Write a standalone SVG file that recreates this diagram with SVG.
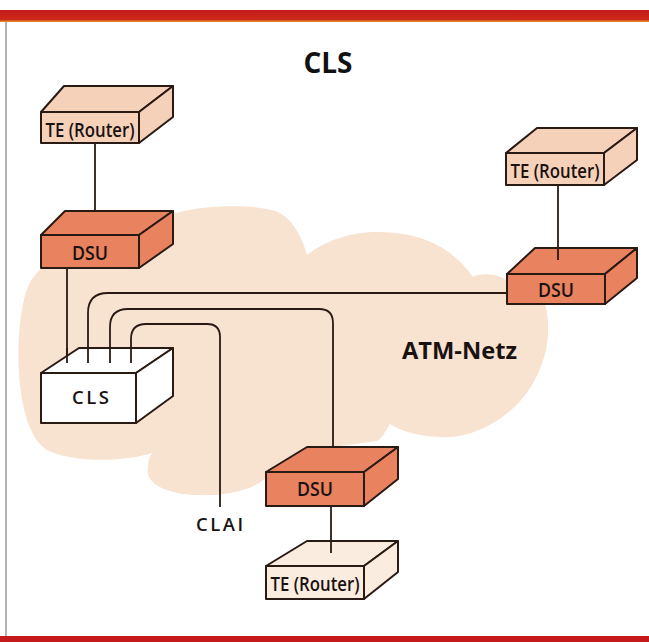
<svg xmlns="http://www.w3.org/2000/svg" width="649" height="642" viewBox="0 0 649 642">
<defs>
<linearGradient id="band" x1="0" y1="0" x2="0" y2="1">
<stop offset="0" stop-color="#c41a1c"/>
<stop offset="0.8" stop-color="#cc2a1a"/>
<stop offset="1" stop-color="#e8a030"/>
</linearGradient>
<style>
.box{stroke:#2a1a14;stroke-width:2;stroke-linejoin:round}
.te{fill:#f6d1ba}
.te2{fill:#fbece0}
.dsu{fill:#e8825f}
.cls{fill:#ffffff}
.con{fill:none;stroke:#2a1a14;stroke-width:1.8}
.lbl{font-family:"Open Sans","Noto Sans",sans-serif;font-weight:600;font-size:19.5px;fill:#1a1210;text-anchor:middle}
.sp{font-family:"Open Sans","Noto Sans",sans-serif;font-weight:600;font-size:18.5px;fill:#1a1210;letter-spacing:2.5px}
</style>
</defs>
<rect width="649" height="642" fill="#ffffff"/>
<rect x="0" y="10" width="649" height="12" fill="url(#band)"/>
<rect x="0" y="636" width="649" height="6" fill="#c41a1c"/>
<line x1="6" y1="22" x2="6" y2="636" stroke="#a09a96" stroke-width="1.5"/>

<text x="328" y="73" font-family="'Open Sans','Noto Sans',sans-serif" font-weight="bold" font-size="28" fill="#111" text-anchor="middle">CLS</text>

<path id="cloud" fill="#f8e2d0" d="M307,255 C325,240 355,231 380,232 C420,233 450,245 473,277 C480,273 495,273 507,280 L545,304 C552,330 548,360 530,388 C510,420 470,440 440,437 C415,436 400,430 390,424 C385,432 382,438 377,441 L340,446 L350,460 L266,478 C250,492 220,496 197,495 C165,494 145,483 148,468 C148,460 150,456 152,453 C120,463 70,462 47,450 C15,430 14,340 24,300 C28,280 38,270 50,262 L60,240 C90,225 140,215 177,213 C200,205 260,203 280,213 C295,222 303,240 307,255 Z"/>

<text x="402" y="359" font-family="'Open Sans','Noto Sans',sans-serif" font-weight="bold" font-size="24" fill="#1a1210" textLength="115" lengthAdjust="spacingAndGlyphs">ATM-Netz</text>

<g id="connectors">
<line class="con" x1="95" y1="143" x2="95" y2="212"/>
<line class="con" x1="67" y1="268" x2="67" y2="363"/>
<path class="con" d="M88,363 V313 Q88,293 108,293 H507"/>
<path class="con" d="M110,363 V327 Q110,309 128,309 H319 Q333,309 333,323 V448"/>
<path class="con" d="M131,363 V339 Q131,324 146,324 H207 Q220,324 220,337 V507"/>
<line class="con" x1="558" y1="185" x2="558" y2="260"/>
<line class="con" x1="331" y1="506" x2="331" y2="553"/>
</g>

<g id="te-topleft">
<polygon class="box te" points="41,112 64,86 173,86 139,112"/>
<polygon class="box te" points="139,112 173,86 173,117 139,143"/>
<rect class="box te" x="41" y="112" width="98" height="31"/>
<text class="lbl" x="90" y="137" textLength="89" lengthAdjust="spacingAndGlyphs">TE (Router)</text>
</g>

<g id="dsu-topleft">
<polygon class="box dsu" points="41,235 65,211 173,211 139,235"/>
<polygon class="box dsu" points="139,235 173,211 173,244 139,268"/>
<rect class="box dsu" x="41" y="235" width="98" height="33"/>
<text class="lbl" x="90" y="260" textLength="36" lengthAdjust="spacingAndGlyphs">DSU</text>
</g>

<g id="cls">
<polygon class="box cls" points="41,373 79,348 173,348 136,373"/>
<polygon class="box cls" points="136,373 173,348 173,396 136,423"/>
<rect class="box cls" x="41" y="373" width="95" height="50"/>
<text class="sp" x="72" y="404">CLS</text>
</g>
<line class="con" x1="67" y1="348" x2="67" y2="363"/>
<line class="con" x1="88" y1="348" x2="88" y2="363"/>
<line class="con" x1="110" y1="348" x2="110" y2="363"/>
<line class="con" x1="131" y1="348" x2="131" y2="363"/>

<g id="te-right">
<polygon class="box te" points="506,153 537,128 637,128 604,153"/>
<polygon class="box te" points="604,153 637,128 637,160 604,185"/>
<rect class="box te" x="506" y="153" width="98" height="32"/>
<text class="lbl" x="555" y="178" textLength="89" lengthAdjust="spacingAndGlyphs">TE (Router)</text>
</g>

<g id="dsu-right">
<polygon class="box dsu" points="507,274 535,248 637,248 605,274"/>
<polygon class="box dsu" points="605,274 637,248 637,278 605,304"/>
<rect class="box dsu" x="507" y="274" width="98" height="30"/>
<text class="lbl" x="556" y="297" textLength="36" lengthAdjust="spacingAndGlyphs">DSU</text>
</g>
<line class="con" x1="558" y1="248" x2="558" y2="260"/>

<g id="dsu-bottom">
<polygon class="box dsu" points="266,472 307,447 398,447 364,472"/>
<polygon class="box dsu" points="364,472 398,447 398,479 364,506"/>
<rect class="box dsu" x="266" y="472" width="98" height="34"/>
<text class="lbl" x="315" y="496" textLength="36" lengthAdjust="spacingAndGlyphs">DSU</text>
</g>

<g id="te-bottom">
<polygon class="box te2" points="266,566 307,541 398,541 364,566"/>
<polygon class="box te2" points="364,566 398,541 398,572 364,599"/>
<rect class="box te2" x="266" y="566" width="98" height="33"/>
<text class="lbl" x="315" y="591" textLength="89" lengthAdjust="spacingAndGlyphs">TE (Router)</text>
</g>
<line class="con" x1="331" y1="541" x2="331" y2="553"/>

<text class="sp" x="196" y="531">CLAI</text>
</svg>
